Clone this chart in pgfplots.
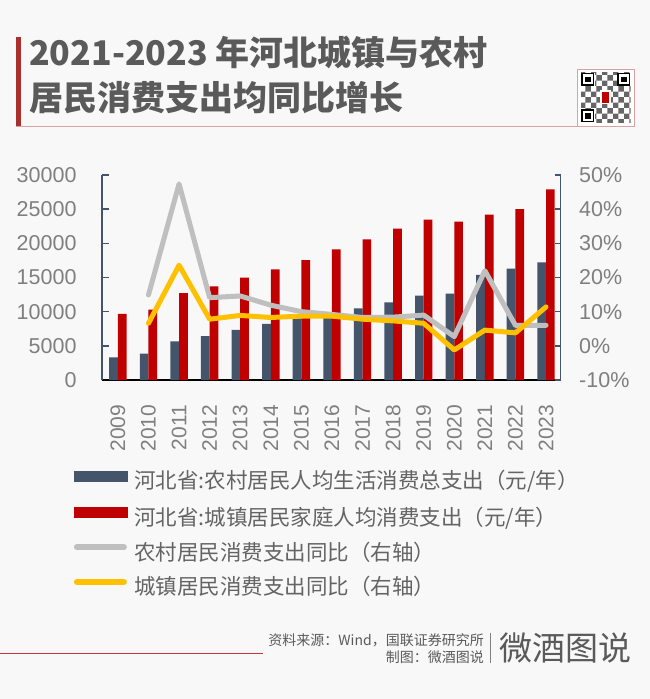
\documentclass[border=0pt]{standalone}
\usepackage{fontspec}
\usepackage{pgfplots}
\usepackage{pgfplotstable}
\pgfplotsset{compat=1.18}
\usetikzlibrary{patterns}
\setmainfont{Liberation Sans}
\newfontfamily\cjk{Noto Sans CJK SC}
\definecolor{bg}{HTML}{F8F8F8}
\definecolor{rural}{HTML}{44546A}
\definecolor{urban}{HTML}{C00000}
\definecolor{gline}{HTML}{BFBFBF}
\definecolor{yline}{HTML}{FFC000}
\definecolor{ttl}{HTML}{5A5A5A}
\definecolor{tickc}{HTML}{7F7F7F}
\definecolor{legc}{HTML}{646464}
\definecolor{darkred}{HTML}{A8302C}
\definecolor{pinkline}{HTML}{D9A3A3}

\pgfplotstableread{
x rural urban
0 3320 9660
1 3850 10290
2 5660 12730
3 6440 13710
4 7320 14980
5 8200 16190
6 9020 17560
7 9800 19120
8 10490 20580
9 11370 22150
10 12340 23460
11 12630 23170
12 15370 24190
13 16290 25020
14 17220 27900
}\spend

\pgfplotstableread{
x ryoy uyoy
1 14.9 6.6
2 47.4 23.6
3 14.1 7.8
4 14.6 8.9
5 11.9 8.3
6 10.0 8.7
7 9.2 8.7
8 8.3 7.8
9 8.4 7.3
10 9.0 6.6
11 2.7 -1.2
12 22.0 4.6
13 6.0 3.8
14 6.0 11.4
}\yoy

\begin{document}
\begin{tikzpicture}[x=1pt,y=1pt]
\useasboundingbox (0,0) rectangle (650,-699);
\fill[bg] (0,0) rectangle (650,-699);

% title block
\fill[darkred] (16,-37) rectangle (21,-126);
\draw[pinkline, line width=1pt] (16,-126) -- (634,-126);
\node[anchor=base west, inner sep=0pt, text=ttl, font=\cjk\bfseries\fontsize{34}{34}\selectfont] at (29,-65.5) {2021-2023 年河北城镇与农村};
\node[anchor=base west, inner sep=0pt, text=ttl, font=\cjk\bfseries\fontsize{34}{34}\selectfont] at (29,-110.5) {居民消费支出均同比增长};

% QR placeholder
\draw[pinkline, fill=white, line width=0.8pt] (577.5,-69) rectangle (634,-126);
\fill[pattern=checkerboard, pattern color=black!60] (581,-72.5) rectangle (630.5,-122.5);
\foreach \qx/\qy in {581/-72.5, 617/-72.5, 581/-109} {
  \fill[white] (\qx,\qy) rectangle ++(13.5,-13.5);
  \draw[black, line width=1.6pt] (\qx+1,\qy-1) rectangle ++(11.5,-11.5);
  \fill[black] (\qx+4,\qy-4) rectangle ++(5.5,-5.5);
}
\fill[white] (600,-90) rectangle (611,-104);
\fill[urban] (602,-91.5) rectangle (609,-102.5);

% main axis: bars
\begin{axis}[
  at={(102pt,-380pt)}, anchor=south west,
  scale only axis, width=458.7pt, height=205pt,
  xmin=-0.52, xmax=14.48, ymin=0, ymax=30000,
  axis x line*=bottom, axis y line*=left,
  x axis line style={black, line width=1.6pt, -},
  y axis line style={rural, line width=1.4pt, -},
  xtick={0,...,14},
  xticklabels={2009,2010,2011,2012,2013,2014,2015,2016,2017,2018,2019,2020,2021,2022,2023},
  xtick style={draw=none},
  ytick={0,5000,...,30000},
  scaled y ticks=false,
  ytick style={rural, line width=1.4pt},
  major tick length=7pt, tick align=inside,
  /pgf/number format/.cd, 1000 sep={}, assume math mode=true, /pgfplots/.cd,
  yticklabel style={font=\fontsize{21.5}{21.5}\selectfont, text=tickc, anchor=east, inner sep=0pt},
  yticklabel shift=25.3pt,
  xticklabel style={font=\fontsize{21}{21}\selectfont, text=tickc, rotate=90, anchor=east, inner sep=0pt},
  xticklabel shift=17.7pt,
  ybar=0pt, bar width=8.7pt,
  clip=false,
]
\addplot[fill=rural, draw=none] table[x=x, y=rural] {\spend};
\addplot[fill=urban, draw=none] table[x=x, y=urban] {\spend};
\end{axis}

% secondary axis: yoy lines
\begin{axis}[
  at={(102pt,-380pt)}, anchor=south west,
  scale only axis, width=458.7pt, height=205pt,
  xmin=-0.52, xmax=14.48, ymin=-10, ymax=50,
  axis x line=none, axis y line*=right,
  y axis line style={rural, line width=1.4pt, -},
  ytick={-10,0,...,50},
  ytick style={rural, line width=1.4pt},
  major tick length=6pt, tick align=inside,
  yticklabel={\pgfmathprintnumber{\tick}\%},
  /pgf/number format/.cd, assume math mode=true, /pgfplots/.cd,
  yticklabel style={font=\fontsize{21.5}{21.5}\selectfont, text=tickc, anchor=west, inner sep=0pt},
  yticklabel shift=18.3pt,
  clip=false,
  legend cell align=left,
  legend style={at={(-0.0617,-0.442)}, anchor=north west, draw=none, fill=none,
    inner sep=0pt, outer sep=0pt, row sep=13.6pt, column sep=7pt,
    font=\cjk\fontsize{21.5}{21.5}\selectfont, text=legc,
    nodes={inner sep=0pt, text height=16pt, text depth=5pt}},
]
\addlegendimage{legend image code/.code={\fill[rural] (0pt,2.5pt) rectangle (53pt,12.5pt);}}
\addlegendentry{河北省:农村居民人均生活消费总支出（元/年）}
\addlegendimage{legend image code/.code={\fill[urban] (0pt,2.5pt) rectangle (53pt,12.5pt);}}
\addlegendentry{河北省:城镇居民家庭人均消费支出（元/年）}
\addplot[gline, line width=5pt, line join=round, line cap=round,
  legend image code/.code={\draw[gline, line width=6pt, line cap=round] (3pt,7.5pt) -- (50pt,7.5pt);}]
  table[x=x, y=ryoy] {\yoy};
\addlegendentry{农村居民消费支出同比（右轴）}
\addplot[yline, line width=5pt, line join=round, line cap=round,
  legend image code/.code={\draw[yline, line width=6pt, line cap=round] (3pt,7.5pt) -- (50pt,7.5pt);}]
  table[x=x, y=uyoy] {\yoy};
\addlegendentry{城镇居民消费支出同比（右轴）}
\end{axis}

% footer
\draw[urban!80, line width=0.9pt] (0,-653.3) -- (262.7,-653.3);
\node[anchor=east, inner sep=0pt, text=ttl, font=\cjk\fontsize{14}{14}\selectfont] at (484,-640.7) {资料来源：Wind，国联证券研究所};
\node[anchor=east, inner sep=0pt, text=ttl, font=\cjk\fontsize{14}{14}\selectfont] at (484,-656.7) {制图：微酒图说};
\draw[black!50, line width=0.8pt] (490.7,-632.7) -- (490.7,-663);
\node[anchor=west, inner sep=0pt, text=ttl, font=\cjk\fontsize{33}{33}\selectfont] at (499,-648) {微酒图说};
\end{tikzpicture}
\end{document}
